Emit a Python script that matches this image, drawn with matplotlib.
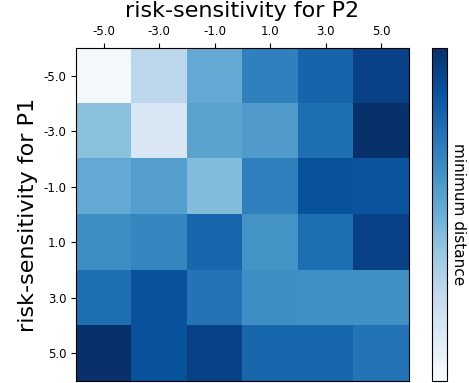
from matplotlib import pyplot as plt
import numpy as np

p2_labels = ['-5.0', '-3.0', '-1.0', '1.0', '3.0', '5.0']
p1_labels = ['-5.0', '-3.0', '-1.0', '1.0', '3.0', '5.0']

row_m5 = [0.02, 0.28, 0.52, 0.69, 0.80, 0.93]
row_m3 = [0.42, 0.15, 0.55, 0.58, 0.76, 1.00]
row_m1 = [0.52, 0.57, 0.44, 0.69, 0.87, 0.86]
row_p1 = [0.64, 0.67, 0.79, 0.62, 0.76, 0.93]
row_p3 = [0.76, 0.87, 0.74, 0.64, 0.63, 0.63]
row_p5 = [1.00, 0.87, 0.93, 0.79, 0.79, 0.74]

dist = np.array([row_m5, row_m3, row_m1, row_p1, row_p3, row_p5])

fig = plt.figure(figsize=(4.69, 3.83), dpi=100)
axes = fig.add_axes([0.162, 0.005, 0.71, 0.87])
im = axes.imshow(dist, cmap='Blues', vmin=0, vmax=1, aspect='auto')
axes.xaxis.tick_top()
axes.set_xticks(range(len(p2_labels)))
axes.set_xticklabels(p2_labels, fontsize=8.5)
axes.set_yticks(range(len(p1_labels)))
axes.set_yticklabels(p1_labels, fontsize=8.5)
axes.set_title('risk-sensitivity for P2', fontsize=16)
axes.set_ylabel('risk-sensitivity for P1', fontsize=16)

cax = fig.add_axes([0.921, 0.005, 0.032, 0.87])
cb = fig.colorbar(im, cax=cax)
cb.set_ticks([])
cb.set_label('minimum distance', rotation=270, labelpad=14, fontsize=11)

plt.savefig('out.png', dpi=100)
